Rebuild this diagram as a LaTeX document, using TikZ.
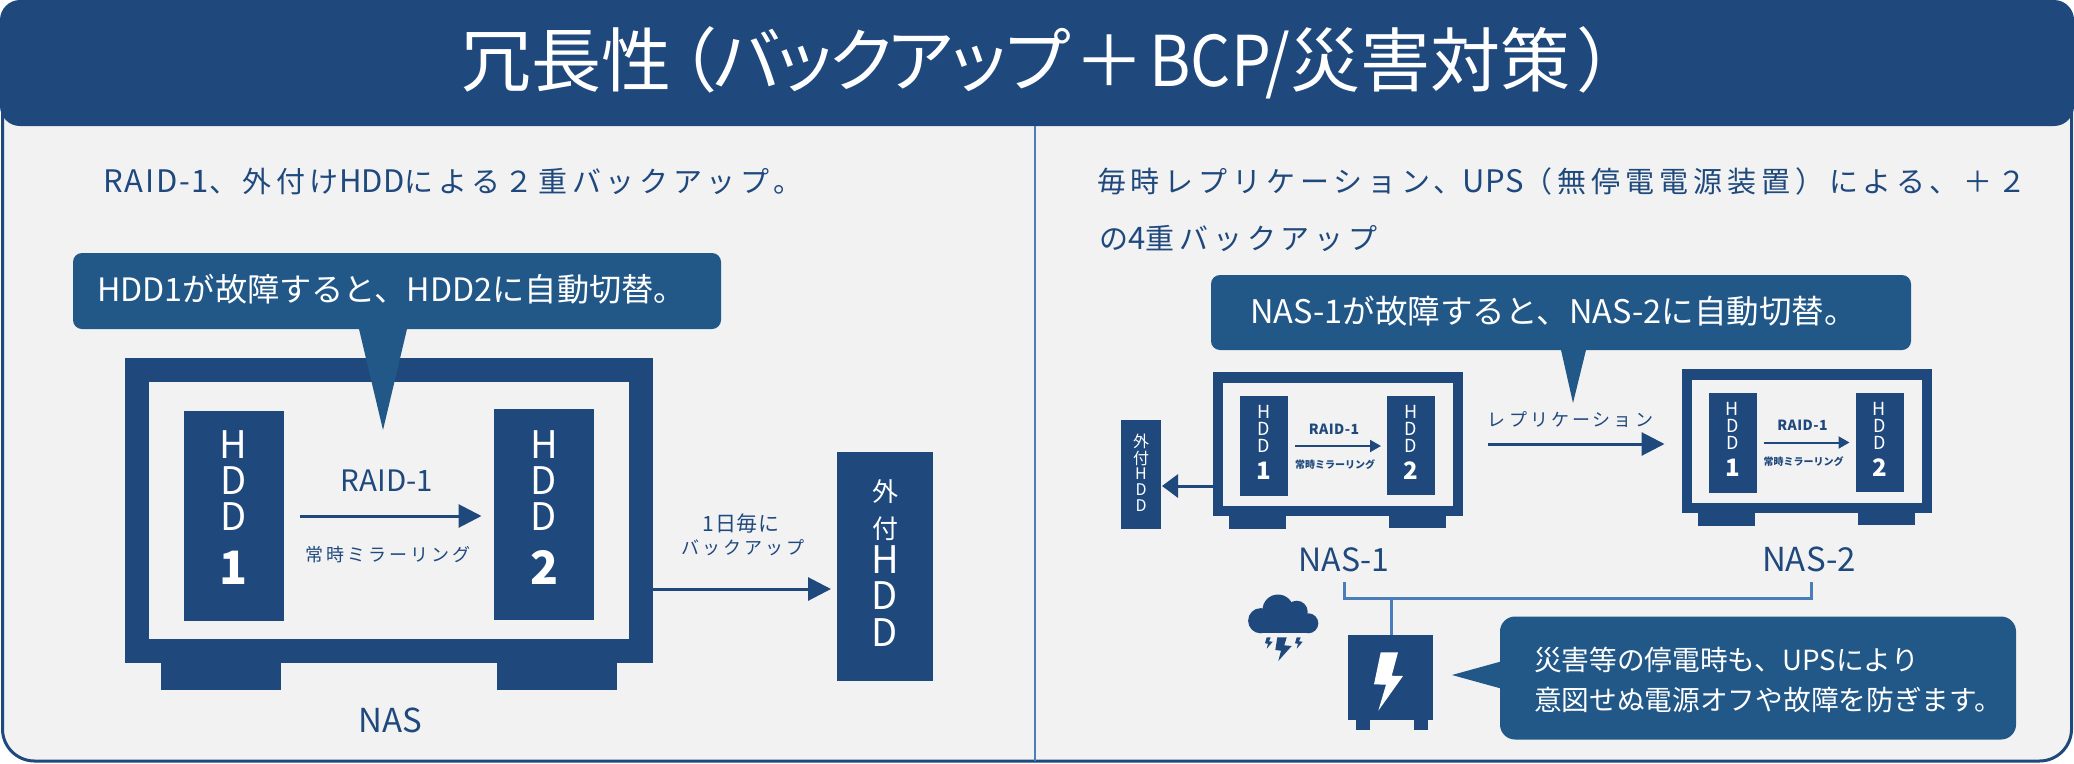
\documentclass[tikz,border=0pt]{standalone}
\usepackage{fontspec}
\usetikzlibrary{arrows.meta}
\setmainfont{Noto Sans CJK JP}
\definecolor{navy}{HTML}{1F497D}
\definecolor{callblue}{HTML}{215888}
\definecolor{wire}{HTML}{4A7EBB}
\definecolor{panel}{HTML}{F2F2F2}
\newcommand{\fs}[1]{\fontsize{#1}{#1}\selectfont}
\newcommand{\ls}[1]{\addfontfeature{LetterSpace=#1}}
\newcommand{\lat}[2][1]{{\normalfont\fs{31}\ls{#1}#2}}
% \bx{name}{x1}{y1}{x2}{y2}{options}
\newcommand{\bx}[6]{\node[rect,minimum width={(#4-#2)*1pt},minimum height={(#5-#3)*1pt},#6] (#1) at ({(#2+#4)/2},{(#3+#5)/2}) {};}
\tikzset{
  rect/.style={inner sep=0pt,outer sep=0pt,draw=none,fill=navy},
  ink/.style={inner sep=0pt,outer sep=0pt,text=navy},
  wht/.style={inner sep=0pt,outer sep=0pt,text=white},
  bigarrow/.style={draw=navy,line width=3pt,-{Triangle[length=23pt,width=23pt]}},
  midarrow/.style={draw=navy,line width=3pt,-{Triangle[length=16pt,width=23pt]}},
  tinyarrow/.style={draw=navy,line width=2pt,-{Triangle[length=11pt,width=12pt]}},
  wireline/.style={draw=wire,line width=3pt},
}
\newcommand{\smallnas}[5]{% prefix dx dy
\begin{scope}[shift={(#2,#3)}]
  \bx{#1foota}{1229}{510}{1286}{529}{}
  \bx{#1footb}{1389}{510}{1446}{528}{}
  \bx{#1}{1213}{372}{1463}{516}{}
  \bx{#1in}{1223}{383}{1453}{506}{fill=panel}
  \bx{#1ha}{1240}{396}{1288}{496}{}
  \bx{#1hb}{1387}{396}{1435}{495}{}
  \draw[tinyarrow,shorten <=7pt,shorten >=6pt] (#1ha.east) -- (#1ha.east -| #1hb.west);
  \node[ink,font=\fs{14}\bfseries\ls{3}] (#1raid) at (1334,429) {RAID-1};
  \node[ink,font=\fs{10}\bfseries] (#1mir) at (1335,465) {常時ミラーリング};
  \node[wht,font=\fs{18}] (#1a1) at (1264,412) {H};
  \node[wht,font=\fs{18}] (#1a2) at (1264,429) {D};
  \node[wht,font=\fs{18}] (#1a3) at (1264,446) {D};
  \node[wht,font=\fs{24}\bfseries] (#1a4) at (1264,471) {1};
  \node[wht,font=\fs{18}] (#1b1) at (1411,412) {H};
  \node[wht,font=\fs{18}] (#1b2) at (1411,429) {D};
  \node[wht,font=\fs{18}] (#1b3) at (1411,446) {D};
  \node[wht,font=\fs{24}\bfseries] (#1b4) at (1411,471) {2};
\end{scope}}
\begin{document}
\begin{tikzpicture}[x=1pt,y=-1pt]
\useasboundingbox (0,0) rectangle (2074,763);
% panel and header
\node[rect,fill=panel,draw=navy,line width=3pt,rounded corners=32pt,minimum width=2069pt,minimum height=721pt] (panelbox) at (1037,400.5) {};
\node[rect,rounded corners=20pt,minimum width=2074pt,minimum height=126pt] (header) at (1037,63) {};
\node[wht,font=\fs{70},anchor=west] (title) at (461,63) {冗長性\kern-24pt（\kern-6pt{\ls{-17}バックアップ}\kern3pt＋\kern5pt\scalebox{.9}[1]{BCP/}\kern0pt災害対策\kern6pt）};
\draw[wireline,line width=2pt] (header.south -| 1035,0) -- (panelbox.south -| 1035,0);
% intro texts
\node[ink,font=\fs{29}\ls{16},anchor=west] (introa) at (103,181) {\lat[6]{RAID-1}、外付け\lat{HDD}による２重バックアップ。};
\node[ink,font=\fs{29}\ls{17},anchor=west] (introb) at (1097,181) {毎時レプリケーション、\lat{UPS}（無停電電源装置）による、＋２};
\node[ink,font=\fs{29}\ls{17},anchor=west] (introc) at (1099,238) {の\lat{4}重バックアップ};
% left NAS
\bx{nasfa}{161}{650}{281}{690}{}
\bx{nasfb}{497}{650}{617}{690}{}
\bx{nas}{125}{358}{653}{663}{}
\bx{nasin}{149}{381.5}{629}{639}{fill=panel}
\bx{hddone}{184}{411}{284}{621}{}
\bx{hddtwo}{494}{409}{594}{620}{}
\foreach \n/\t/\y in {a/H/445,b/D/481,c/D/517}{
  \node[wht,font=\fs{38}] (oneL\n) at (233.5,\y) {\t};
  \node[wht,font=\fs{38}] (twoL\n) at (544,\y) {\t};
}
\node[wht,font=\fs{46}\bfseries] (oneNum) at (233.5,568) {1};
\node[wht,font=\fs{46}\bfseries] (twoNum) at (544,567) {2};
\draw[bigarrow,shorten <=16pt,shorten >=12.5pt] (hddone.east) -- (hddone.east -| hddtwo.west);
\node[ink,font=\fs{29.5}] (raidtxt) at (387,481) {RAID-1};
\node[ink,font=\fs{18}\ls{17}] (mirtxt) at (388,555) {常時ミラーリング};
\node[ink,font=\fs{33}] (nastxt) at (390,720) {NAS};
% left external HDD
\bx{ext}{837}{452}{933}{681}{}
\coordinate (extfrom) at (653,589);
\draw[bigarrow,shorten >=6pt] (extfrom) -- (extfrom -| ext.west);
\node[ink,font=\fs{21}\ls{3}] (daya) at (741,524) {1日毎に};
\node[ink,font=\fs{18}\ls{17}] (dayb) at (743,548) {バックアップ};
\foreach \n/\t/\y/\s in {a/外/492/26,b/付/529/26,c/H/560/38,d/D/596/38,e/D/633/38}{
  \node[wht,font=\fs{\s}] (extL\n) at (885,\y) {\t};
}
% left callout
\fill[callblue] (359,329) -- (407,329) -- (383,430) -- cycle;
\node[rect,fill=callblue,rounded corners=9pt,minimum width=648pt,minimum height=76pt] (callL) at (397,291) {};
\node[wht,font=\fs{32.2}] (callLt) at (391.5,289) {HDD1が故障すると、HDD2に自動切替。};
% right NAS units
\smallnas{nasA}{0}{0}{}{}
\smallnas{nasB}{468.5}{-3.5}{}{}
\draw[bigarrow,shorten <=25pt,shorten >=17pt] (nasA.east |- 0,444) -- (nasB.west |- 0,444);
\node[ink,font=\fs{18}\ls{17}] (reptxt) at (1570.5,420) {レプリケーション};
% right external HDD
\bx{extr}{1121}{420}{1161}{529}{}
\coordinate (extrfrom) at (1213,486);
\draw[midarrow,shorten >=1pt] (extrfrom) -- (extrfrom -| extr.east);
\foreach \n/\t/\y in {a/外/441,b/付/458,c/H/474,d/D/490,e/D/506}{
  \node[wht,font=\fs{16}] (extrL\n) at (1141,\y) {\t};
}
% right callout
\fill[callblue] (1561,350) -- (1586,350) -- (1573,403) -- cycle;
\node[rect,fill=callblue,rounded corners=9pt,minimum width=700pt,minimum height=75pt] (callR) at (1561,312.5) {};
\node[wht,font=\fs{32.5}] (callRt) at (1553.5,311) {NAS-1が故障すると、NAS-2に自動切替。};
% NAS labels
\node[ink,font=\fs{32}] (labA) at (1344,560) {NAS-1};
\node[ink,font=\fs{33}] (labB) at (1809,559) {NAS-2};
% UPS
\bx{upsfa}{1356}{715}{1370}{730}{}
\bx{upsfb}{1414}{715}{1428}{730}{}
\bx{ups}{1348}{635}{1433}{720}{}
\fill[white] (1380.7,652.3) -- (1398,652.3) -- (1391.7,675.7) -- (1403,676) -- (1378.3,710.7) -- (1386,684.7) -- (1374,684.3) -- cycle;
\coordinate (wa) at (1344,582);
\coordinate (wb) at (1811,582);
\coordinate (wj) at (1391,598);
\draw[wireline,line join=miter] (wa) -- (wa |- wj) -- (wb |- wj) -- (wb);
\draw[wireline] (wj) -- (wj |- ups.north);
% cloud
\fill[navy] (1260.7,620.7) circle (12.6);
\fill[navy] (1278,610) circle (15.5);
\fill[navy] (1296.7,611.7) circle (11);
\fill[navy] (1308.3,623.3) circle (10);
\fill[navy] (1260.7,620) rectangle (1308.3,633.3);
\fill[navy] (1277.3,637.3) -- (1286.7,637.3) -- (1284.3,645.3) -- (1291.7,646) -- (1278.3,661) -- (1281,650.7) -- (1275.3,650) -- cycle;
\fill[navy] (1266.7,637.3) -- (1270.7,637.3) -- (1269,641.3) -- (1272.7,641.7) -- (1266.7,648.7) -- (1268,643.7) -- (1265,643.3) -- cycle;
\fill[navy] (1296.7,637.3) -- (1300.7,637.3) -- (1299,641.3) -- (1302.7,641.7) -- (1296.7,648.7) -- (1298,643.7) -- (1295,643.3) -- cycle;
% UPS callout
\fill[callblue] (1510,659) -- (1452,675) -- (1510,691) -- cycle;
\node[rect,fill=callblue,rounded corners=15pt,minimum width=516pt,minimum height=123pt] (callU) at (1758,678) {};
\node[wht,font=\fs{27.7},anchor=west] (callUa) at (1534,660) {災害等の停電時も、UPSにより};
\node[wht,font=\fs{27.7},anchor=west] (callUb) at (1534,700) {意図せぬ電源オフや故障を防ぎます。};
\end{tikzpicture}
\end{document}
